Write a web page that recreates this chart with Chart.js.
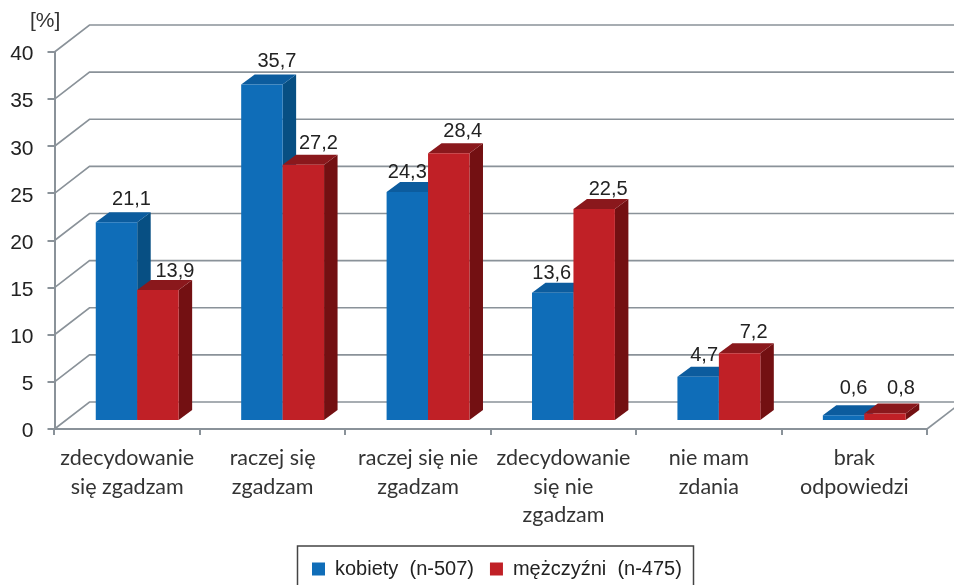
<!DOCTYPE html>
<html>
<head>
<meta charset="utf-8">
<style>html,body{margin:0;padding:0;background:#fff;overflow:hidden}canvas{display:block}</style>
<script src="https://cdn.jsdelivr.net/npm/chart.js@4"></script>
</head>
<body>
<canvas id="c" width="954" height="585"></canvas>
<script>
const categories = [
  ['zdecydowanie', 'się zgadzam'],
  ['raczej się', 'zgadzam'],
  ['raczej się nie', 'zgadzam'],
  ['zdecydowanie', 'się nie', 'zgadzam'],
  ['nie mam', 'zdania'],
  ['brak', 'odpowiedzi']
];
const kobiety = [21.1, 35.7, 24.3, 13.6, 4.7, 0.6];
const mezczyzni = [13.9, 27.2, 28.4, 22.5, 7.2, 0.8];
const seriesNames = ['kobiety  (n-507)', 'mężczyźni  (n-475)'];
const yTicks = [0, 5, 10, 15, 20, 25, 30, 35, 40];

const GRID = '#8a9299';
const WALL = {dx: 35, dy: -27};
const FLOOR = {dx: 10, dy: -8};
const BAR_DEPTH = {dx: 13.5, dy: -10};
const FACES = [
  {front: '#0f6db8', top: '#0c5c9e', side: '#074f83'},
  {front: '#c02026', top: '#8a181c', side: '#731012'}
];
const LABEL_NUDGE_X = [[15, 15, 0, -1, 6, 10], [17, 15, 14, 14, 14, 16]];
const LABEL_NUDGE_Y = [[7, 8, 4, 4, 6, 11], [3, 6, 6, 4, 5, 9]];

function drawFaces(ctx, meta, f) {
  meta.data.forEach(b => {
    const p = b.getProps(['x', 'y', 'base', 'width'], true);
    const L = p.x - p.width / 2, R = p.x + p.width / 2;
    const dx = BAR_DEPTH.dx, dy = BAR_DEPTH.dy;
    ctx.fillStyle = f.side;
    ctx.beginPath();
    ctx.moveTo(R, p.y); ctx.lineTo(R + dx, p.y + dy);
    ctx.lineTo(R + dx, p.base + dy); ctx.lineTo(R, p.base);
    ctx.closePath(); ctx.fill();
    ctx.fillStyle = f.top;
    ctx.beginPath();
    ctx.moveTo(L, p.y); ctx.lineTo(L + dx, p.y + dy);
    ctx.lineTo(R + dx, p.y + dy); ctx.lineTo(R, p.y);
    ctx.closePath(); ctx.fill();
  });
}

const scene3d = {
  id: 'scene3d',
  afterLayout(chart) {
    const l = chart.legend;
    const w = l.width, h = l.height;
    l.left = 296; l.right = l.left + w; l.width = w;
    l.top = 566 - h / 2; l.bottom = l.top + h;
  },
  beforeDatasetsDraw(chart) {
    const {ctx, chartArea: a, scales: {y}} = chart;
    ctx.save();
    ctx.strokeStyle = GRID;
    ctx.lineWidth = 1.6;
    yTicks.forEach(v => {
      const py = y.getPixelForValue(v);
      ctx.beginPath();
      ctx.moveTo(a.left, py);
      ctx.lineTo(a.left + WALL.dx, py + WALL.dy);
      ctx.lineTo(a.right + WALL.dx, py + WALL.dy);
      ctx.stroke();
    });
    ctx.beginPath();
    ctx.moveTo(a.right, a.bottom);
    ctx.lineTo(a.right + WALL.dx, a.bottom + WALL.dy);
    ctx.stroke();
    ctx.restore();
    // blue first, red in front of it
    [0, 1].forEach(i => {
      const meta = chart.getDatasetMeta(i);
      ctx.save();
      ctx.translate(FLOOR.dx, FLOOR.dy);
      drawFaces(ctx, meta, FACES[i]);
      meta.controller.draw();
      ctx.restore();
    });
    return false;
  },
  afterDraw(chart) {
    const {ctx} = chart;
    ctx.save();
    ctx.fillStyle = '#222';
    ctx.font = '20px "Liberation Sans"';
    ctx.textAlign = 'center';
    ctx.textBaseline = 'alphabetic';
    chart.data.datasets.forEach((ds, i) => {
      chart.getDatasetMeta(i).data.forEach((b, j) => {
        const p = b.getProps(['x', 'y', 'width'], true);
        const tx = p.x + FLOOR.dx + LABEL_NUDGE_X[i][j];
        const ty = p.y + FLOOR.dy + BAR_DEPTH.dy - LABEL_NUDGE_Y[i][j];
        ctx.fillText(String(ds.data[j]).replace('.', ','), tx, ty);
      });
    });
    ctx.textAlign = 'left';
    ctx.fillStyle = '#333';
    ctx.font = '21px "Liberation Sans"';
    ctx.fillText('[%]', 30, 27);
    ctx.strokeStyle = '#444';
    ctx.lineWidth = 1.5;
    ctx.beginPath();
    ctx.moveTo(297.5, 590);
    ctx.lineTo(297.5, 546);
    ctx.lineTo(693.5, 546);
    ctx.lineTo(693.5, 590);
    ctx.stroke();
    ctx.restore();
  }
};

new Chart(document.getElementById('c'), {
  type: 'bar',
  data: {
    labels: categories,
    datasets: [
      {label: seriesNames[0], data: kobiety, backgroundColor: FACES[0].front},
      {label: seriesNames[1], data: mezczyzni, backgroundColor: FACES[1].front}
    ]
  },
  options: {
    responsive: false,
    animation: false,
    devicePixelRatio: 1,
    layout: {padding: {left: 0, right: 27, top: 52, bottom: 0}},
    datasets: {bar: {categoryPercentage: 0.57, barPercentage: 1}},
    plugins: {
      tooltip: {enabled: false},
      legend: {
        position: 'bottom',
        align: 'start',
        labels: {
          boxWidth: 13, boxHeight: 13, padding: 16,
          color: '#222',
          font: {family: '"Liberation Sans"', size: 20}
        }
      }
    },
    scales: {
      x: {
        afterFit(s) { s.height = 156 - (s.chart.legend ? s.chart.legend.height : 0); },
        grid: {drawOnChartArea: false, color: GRID, lineWidth: 2, tickLength: 6},
        border: {color: GRID, width: 2},
        ticks: {
          color: '#333', padding: 9, maxRotation: 0, autoSkip: false,
          font: {family: 'Lato', size: 21.5, lineHeight: 1.33}
        }
      },
      y: {
        min: 0, max: 40,
        afterFit(s) { s.width = 54.5; },
        afterBuildTicks(s) { s.ticks = yTicks.map(v => ({value: v})); },
        grid: {drawOnChartArea: false, color: GRID, lineWidth: 2, tickLength: 7},
        border: {color: GRID, width: 2},
        ticks: {
          color: '#222', padding: 14, labelOffset: 2.5,
          font: {family: '"Liberation Sans"', size: 21}
        }
      }
    }
  },
  plugins: [scene3d]
});
</script>
</body>
</html>
